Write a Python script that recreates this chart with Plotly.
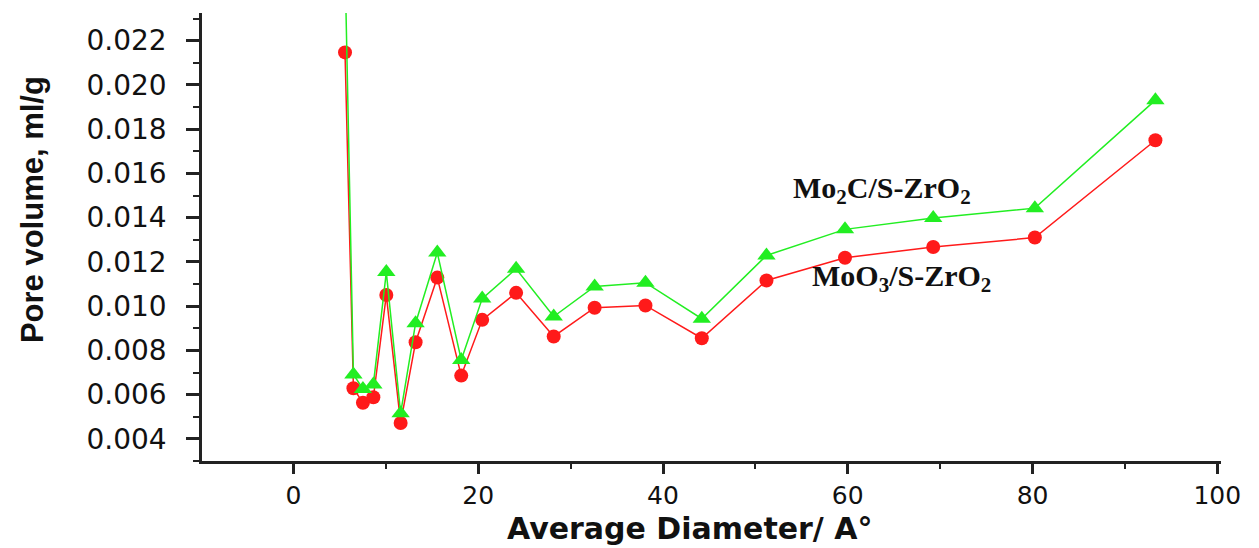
import plotly.graph_objects as go

# Average pore diameter (Å)
diameter = [5.58, 6.49, 7.52, 8.65, 10.05, 11.6, 13.22, 15.57, 18.16, 20.43,
            24.1, 28.17, 32.6, 38.1, 44.2, 51.2, 59.7, 69.25, 80.25, 93.3]

# MoO3/S-ZrO2 pore volume (ml/g)
moo3 = [0.02147, 0.00629, 0.00563, 0.00588, 0.01050, 0.00472, 0.00837, 0.01129,
        0.00686, 0.00938, 0.01060, 0.00863, 0.00993, 0.01003, 0.00855, 0.01116,
        0.01219, 0.01267, 0.01310, 0.01750]

# Mo2C/S-ZrO2 pore volume (ml/g) (first point lies above the visible range)
mo2c = [0.02550, 0.00691, 0.00626, 0.00646, 0.01154, 0.00516, 0.00923, 0.01242,
        0.00757, 0.01034, 0.01169, 0.00953, 0.01089, 0.01106, 0.00943, 0.01229,
        0.01347, 0.01398, 0.01443, 0.01931]

x_ticks = [0, 20, 40, 60, 80, 100]
y_ticks = [0.004, 0.006, 0.008, 0.010, 0.012, 0.014, 0.016, 0.018, 0.020, 0.022]

RED = "#ff1a1a"
GREEN = "#22ee22"

fig = go.Figure()
fig.add_trace(go.Scatter(
    x=diameter, y=moo3, mode="lines+markers", name="MoO3/S-ZrO2",
    line=dict(color=RED, width=1.5),
    marker=dict(symbol="circle", size=14, color=RED),
))
fig.add_trace(go.Scatter(
    x=diameter, y=mo2c, mode="lines+markers", name="Mo2C/S-ZrO2",
    line=dict(color=GREEN, width=1.5),
    marker=dict(symbol="triangle-up", size=16, color=GREEN),
))

ann_font = dict(family="Liberation Serif", size=30, color="#111")
fig.add_annotation(x=63.7, y=0.01525, xref="x", yref="y",
                   text="<b>Mo<sub>2</sub>C/S-ZrO<sub>2</sub></b>",
                   showarrow=False, font=ann_font)
fig.add_annotation(x=65.8, y=0.01125, xref="x", yref="y",
                   text="<b>MoO<sub>3</sub>/S-ZrO<sub>2</sub></b>",
                   showarrow=False, font=ann_font)

# axis titles
fig.add_annotation(x=0.479, y=0, xref="paper", yref="paper", yanchor="middle",
                   yshift=-67, showarrow=False,
                   text="<b>Average Diameter/ A°</b>",
                   font=dict(family="DejaVu Sans", size=30, color="#111"))
fig.add_annotation(x=0, y=0.56, xref="paper", yref="paper", xanchor="center",
                   xshift=-170, textangle=-90, showarrow=False,
                   text="<b>Pore volume, ml/g</b>",
                   font=dict(family="Liberation Sans", size=31, color="#111"))

fig.update_layout(
    width=1259, height=548,
    margin=dict(l=202, r=38, t=13, b=87),
    paper_bgcolor="white", plot_bgcolor="white",
    showlegend=False,
    font=dict(family="DejaVu Sans", color="#111"),
)
fig.update_xaxes(
    range=[-9.9, 100.4], automargin=False,
    tickvals=x_ticks, ticktext=[str(v) for v in x_ticks],
    showgrid=False, zeroline=False,
    showline=True, linecolor="#222", linewidth=2.5,
    ticks="outside", ticklen=10, tickwidth=2.5, tickcolor="#222",
    minor=dict(ticks="outside", ticklen=5, tickwidth=2, tickcolor="#222", dtick=10, tick0=0),
    tickfont=dict(family="DejaVu Sans", size=25, color="#111"),
    ticklabelstandoff=0,
)
fig.update_yaxes(
    range=[0.003, 0.02325], automargin=False,
    tickvals=y_ticks, ticktext=[f"{v:.3f}" for v in y_ticks],
    showgrid=False, zeroline=False,
    showline=True, linecolor="#222", linewidth=2.5,
    ticks="outside", ticklen=13, tickwidth=2.5, tickcolor="#222",
    minor=dict(ticks="outside", ticklen=6, tickwidth=2, tickcolor="#222", dtick=0.001, tick0=0.003),
    tickfont=dict(family="DejaVu Sans", size=28, color="#111"),
    ticklabelstandoff=14,
)

fig.write_html(
    "out.html",
    config={"displayModeBar": False},
    post_script="document.body.style.margin='0';document.body.style.overflow='hidden';",
)
